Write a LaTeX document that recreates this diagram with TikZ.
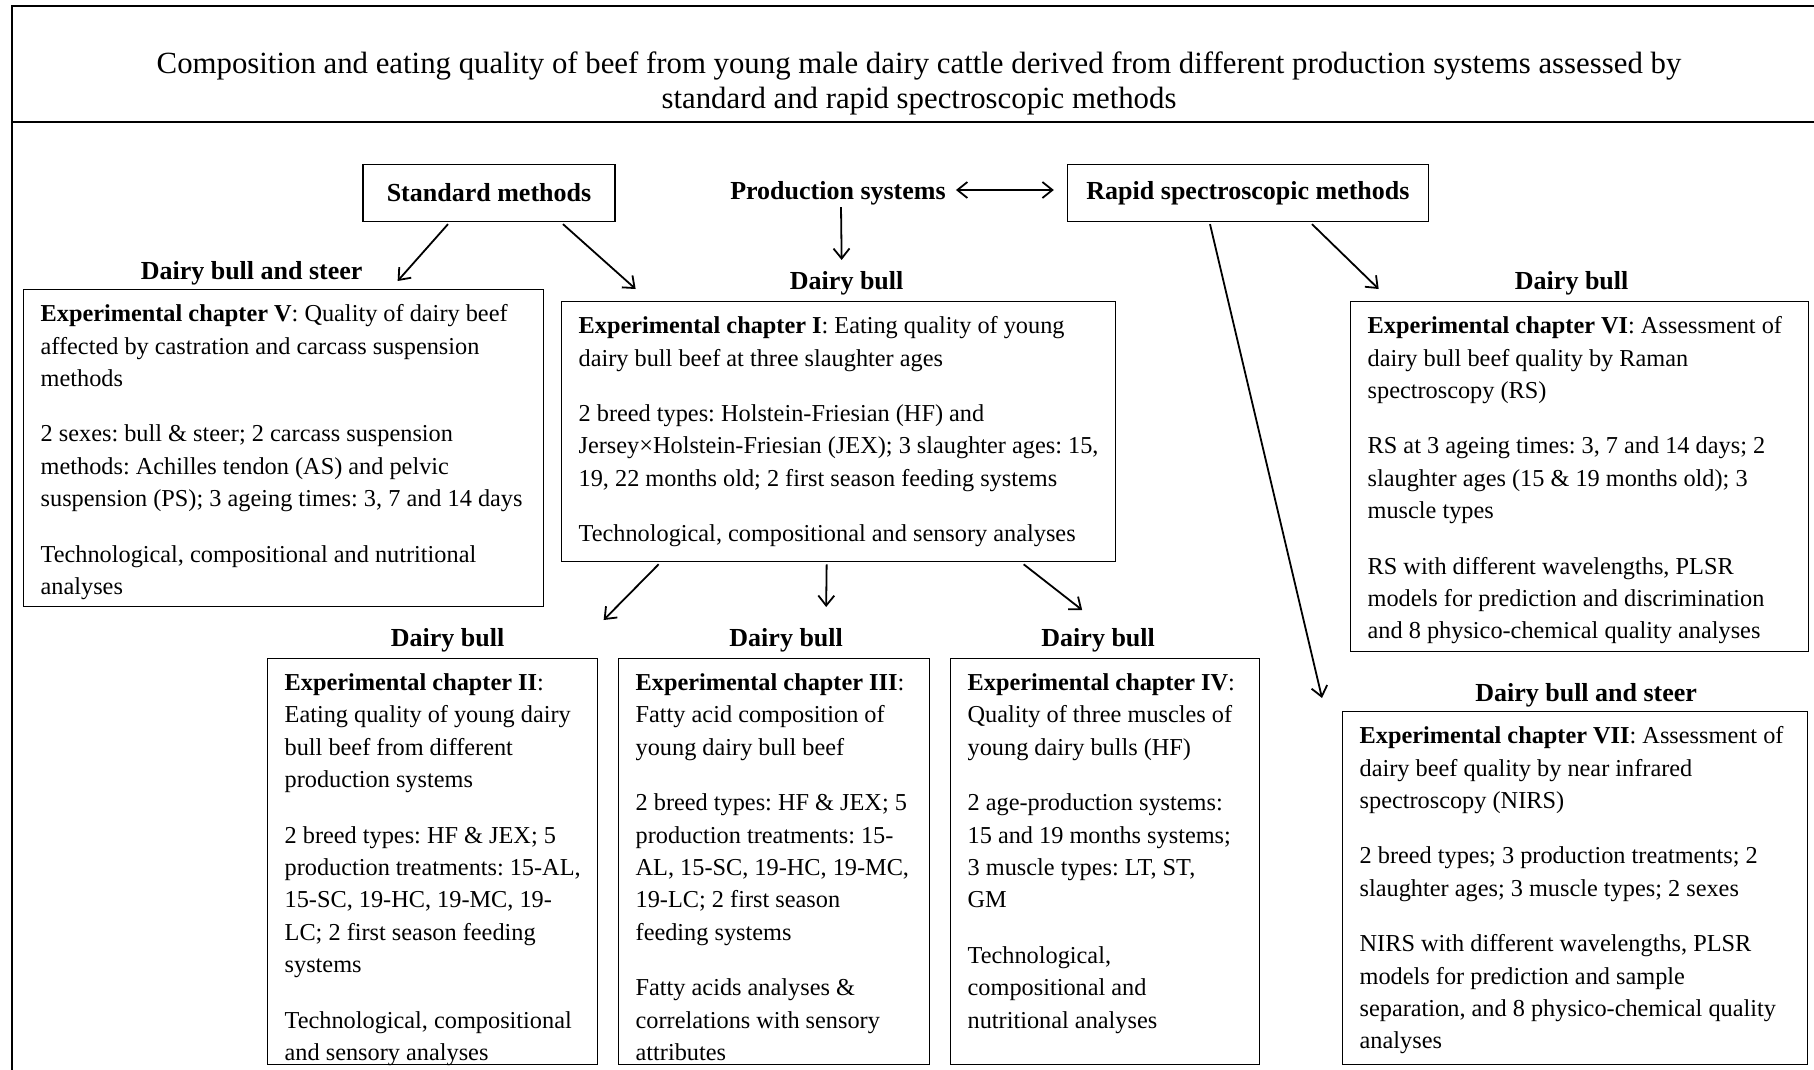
\documentclass[tikz,border=0pt]{standalone}
\usepackage{fontspec}
\setmainfont{Liberation Serif}
\usetikzlibrary{arrows.meta, positioning}
\frenchspacing

\newcommand{\chaptext}[3]{\parbox[c][#2][t]{#1}{\raggedright #3}}

\begin{document}
\begin{tikzpicture}[x=1pt, y=-1pt, >={Straight Barb[length=10pt,width=16pt]}]

	% Styles
	\tikzstyle{frame} = [line width=2.5pt]
	\tikzstyle{title} = [font=\fontsize{30.8}{35}\selectfont, align=center]
	\tikzstyle{method} = [rectangle, draw, line width=1.3pt, minimum height=57pt, font=\fontsize{26}{30}\selectfont\bfseries]
	\tikzstyle{group} = [inner sep=0pt, font=\fontsize{26}{30}\selectfont\bfseries]
	\tikzstyle{chapter} = [rectangle, draw, line width=1.3pt, anchor=north west, inner xsep=17pt, inner ysep=15pt, font=\fontsize{24.3}{32.4}\selectfont]
	\tikzstyle{arrow} = [->, line width=1.8pt]

	\useasboundingbox (0,0) rectangle (1814,1070);

	% Frame
	\draw[frame] (1830,6) -- (12,6) -- (12,1090);
	\draw[line width=1.5pt] (12,122) -- (1830,122);

	% Nodes
	\node[title] (title) at (919,83) {Composition and eating quality of beef from young male dairy cattle derived from different production systems assessed by\\ standard and rapid spectroscopic methods};

	\node[method, minimum width=252pt] (standard) at (489,193) {Standard methods};
	\node[group] (production) at (838,193) {Production systems};
	\node[method, minimum width=361pt] (rapid) at (1248,193) {Rapid spectroscopic methods};

	\node[chapter] (chapV) at (23,289) {\chaptext{486pt}{287pt}{\textbf{Experimental chapter V}: Quality of dairy beef\\ affected by castration and carcass suspension\\ methods\\[23pt] 2 sexes: bull \& steer; 2 carcass suspension\\ methods: Achilles tendon (AS) and pelvic\\ suspension (PS); 3 ageing times: 3, 7 and 14 days\\[23pt] Technological, compositional and nutritional\\ analyses}};
	\node[chapter] (chapI) at (561,301) {\chaptext{520pt}{230pt}{\textbf{Experimental chapter I}: Eating quality of young\\ dairy bull beef at three slaughter ages\\[23pt] 2 breed types: Holstein-Friesian (HF) and\\ Jersey×Holstein-Friesian (JEX); 3 slaughter ages: 15,\\ 19, 22 months old; 2 first season feeding systems\\[23pt] Technological, compositional and sensory analyses}};
	\node[chapter] (chapVI) at (1350,301) {\chaptext{424pt}{320pt}{\textbf{Experimental chapter VI}: Assessment of\\ dairy bull beef quality by Raman\\ spectroscopy (RS)\\[23pt] RS at 3 ageing times: 3, 7 and 14 days; 2\\ slaughter ages (15 \& 19 months old); 3\\ muscle types\\[23pt] RS with different wavelengths, PLSR\\ models for prediction and discrimination\\ and 8 physico-chemical quality analyses}};
	\node[chapter] (chapVII) at (1342,711) {\chaptext{431pt}{323pt}{\textbf{Experimental chapter VII}: Assessment of\\ dairy beef quality by near infrared\\ spectroscopy (NIRS)\\[23pt] 2 breed types; 3 production treatments; 2\\ slaughter ages; 3 muscle types; 2 sexes\\[23pt] NIRS with different wavelengths, PLSR\\ models for prediction and sample\\ separation, and 8 physico-chemical quality\\ analyses}};
	\node[chapter] (chapII) at (267,658) {\chaptext{296pt}{376pt}{\textbf{Experimental chapter II}:\\ Eating quality of young dairy\\ bull beef from different\\ production systems\\[23pt] 2 breed types: HF \& JEX; 5\\ production treatments: 15-AL,\\ 15-SC, 19-HC, 19-MC, 19-\\ LC; 2 first season feeding\\ systems\\[23pt] Technological, compositional\\ and sensory analyses}};
	\node[chapter] (chapIII) at (618,658) {\chaptext{277pt}{376pt}{\textbf{Experimental chapter III}:\\ Fatty acid composition of\\ young dairy bull beef\\[23pt] 2 breed types: HF \& JEX; 5\\ production treatments: 15-\\ AL, 15-SC, 19-HC, 19-MC,\\ 19-LC; 2 first season\\ feeding systems\\[23pt] Fatty acids analyses \&\\ correlations with sensory\\ attributes}};
	\node[chapter] (chapIV) at (950,658) {\chaptext{275pt}{376pt}{\textbf{Experimental chapter IV}:\\ Quality of three muscles of\\ young dairy bulls (HF)\\[23pt] 2 age-production systems:\\ 15 and 19 months systems;\\ 3 muscle types: LT, ST,\\ GM\\[23pt] Technological,\\ compositional and\\ nutritional analyses}};

	\node[group, above=4pt of chapV, xshift=-32pt] (cattleV) {Dairy bull and steer};
	\node[group, above=6pt of chapI, xshift=8pt] (cattleI) {Dairy bull};
	\node[group, above=6pt of chapVI, xshift=-8pt] (cattleVI) {Dairy bull};
	\node[group, above=4pt of chapVII, xshift=11pt] (cattleVII) {Dairy bull and steer};
	\node[group, above=6pt of chapII, xshift=15pt] (cattleII) {Dairy bull};
	\node[group, above=6pt of chapIII, xshift=12pt] (cattleIII) {Dairy bull};
	\node[group, above=6pt of chapIV, xshift=-7pt] (cattleIV) {Dairy bull};

	% Arrows
	\draw[arrow] ([xshift=-41pt,yshift=-2pt]standard.south) -- ([xshift=114pt,yshift=8pt]chapV.north);
	\draw[arrow] ([xshift=74pt,yshift=-2pt]standard.south) -- ([xshift=-203pt,yshift=12pt]chapI.north);
	\draw[arrow] ([xshift=3pt,yshift=-2pt]production.south) -- ([xshift=-5pt,yshift=11pt]cattleI.north);
	\draw[arrow, <->] ([xshift=10pt,yshift=3pt]production.east) -- ([xshift=-13pt,yshift=3pt]rapid.west);
	\draw[arrow] ([xshift=64pt,yshift=-2pt]rapid.south) -- ([xshift=-201pt,yshift=12pt]chapVI.north);
	\draw[arrow] ([xshift=-38pt,yshift=-2pt]rapid.south) -- ([xshift=-20pt,yshift=13pt]chapVII.north west);
	\draw[arrow] ([xshift=-180pt,yshift=-2pt]chapI.south) -- ([xshift=171pt,yshift=38pt]chapII.north);
	\draw[arrow] ([xshift=-12pt,yshift=-2pt]chapI.south) -- ([xshift=52pt,yshift=51pt]chapIII.north);
	\draw[arrow] ([xshift=185pt,yshift=-2pt]chapI.south) -- ([xshift=-23pt,yshift=48pt]chapIV.north);

\end{tikzpicture}
\end{document}
